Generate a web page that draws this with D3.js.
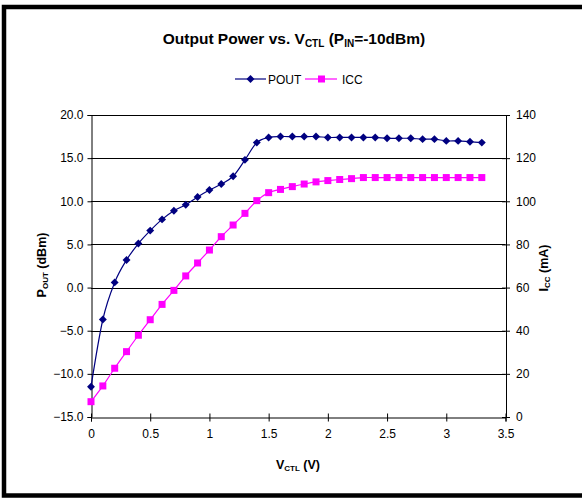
<!DOCTYPE html>
<html><head><meta charset="utf-8">
<script src="https://cdn.jsdelivr.net/npm/d3@7"></script>
<style>body{margin:0;background:#fff}svg{display:block}text{font-family:Arial,"Liberation Sans",sans-serif}</style>
</head><body>
<script>
const vctl = [0,0.1,0.2,0.3,0.4,0.5,0.6,0.7,0.8,0.9,1.0,1.1,1.2,1.3,1.4,1.5,1.6,1.7,1.8,1.9,2.0,2.1,2.2,2.3,2.4,2.5,2.6,2.7,2.8,2.9,3.0,3.1,3.2,3.3];
const pout = [-11.5,-3.7,0.6,3.2,5.1,6.6,7.9,8.9,9.6,10.5,11.3,12.0,12.9,14.8,16.8,17.4,17.5,17.5,17.5,17.5,17.4,17.4,17.4,17.4,17.4,17.3,17.3,17.3,17.2,17.2,17.0,17.0,16.9,16.8];
const icc = [7.1,14.4,22.6,30.3,37.9,45.1,52.2,58.7,65.4,71.4,77.4,83.6,89.0,94.4,100.3,104.0,105.5,106.8,108.0,109.0,109.6,110.1,110.5,111,111,111,111,111,111,111,111,111,111,111];
const xTicks = [0,0.5,1,1.5,2,2.5,3,3.5];
const leftTicks = [20,15,10,5,0,-5,-10,-15];
const rightTicks = [140,120,100,80,60,40,20,0];

const W=582,H=498;
const svg=d3.select("body").append("svg").attr("width",W).attr("height",H);
svg.append("rect").attr("x",4).attr("y",7).attr("width",590).attr("height",488.5)
  .attr("fill","none").attr("stroke","#000").attr("stroke-width",4.5);

const L=91,R=505.5,T=115,B=417;
const x=d3.scaleLinear().domain([0,3.5]).range([L,R]);
const yL=d3.scaleLinear().domain([-15,20]).range([B,T]);
const yR=d3.scaleLinear().domain([0,140]).range([B,T]);

svg.append("g").selectAll("line").data(leftTicks.filter(d=>d>-15)).join("line")
  .attr("x1",L).attr("x2",R).attr("y1",d=>Math.round(yL(d))+0.5).attr("y2",d=>Math.round(yL(d))+0.5)
  .attr("stroke","#000").attr("stroke-width",1);

const fmt1=d3.format(".1f");
const gL=svg.append("g").attr("transform",`translate(${L+0.5},0)`)
  .call(d3.axisLeft(yL).tickValues(leftTicks).tickFormat(fmt1).tickSize(4).tickPadding(4));
const gR=svg.append("g").attr("transform",`translate(${R+0.5},0)`)
  .call(d3.axisRight(yR).tickValues(rightTicks).tickSize(4).tickPadding(6));
gR.selectAll(".tick line").attr("x1",-4);
const gX=svg.append("g").attr("transform",`translate(0,${B+0.5})`)
  .call(d3.axisBottom(x).tickValues(xTicks).tickFormat(d3.format("")).tickSize(4).tickPadding(8));
gX.selectAll(".tick line").attr("y1",-4);
[gL,gR,gX].forEach(g=>{g.select(".domain").attr("stroke","#000");
  g.selectAll(".tick line").attr("stroke","#000");
  g.selectAll("text").attr("font-size",12).attr("fill","#000").attr("font-family","Arial, Liberation Sans, sans-serif");});

const curve=d3.curveCatmullRom.alpha(0);
const lp=d3.line().x((d,i)=>x(vctl[i])).y(d=>yL(d)).curve(curve);
const li=d3.line().x((d,i)=>x(vctl[i])).y(d=>yR(d)).curve(curve);
svg.append("path").attr("d",li(icc)).attr("fill","none").attr("stroke","#FF00FF").attr("stroke-width",1.2);
svg.append("path").attr("d",lp(pout)).attr("fill","none").attr("stroke","#000080").attr("stroke-width",1.2);
svg.append("g").selectAll("rect").data(icc).join("rect")
  .attr("x",(d,i)=>x(vctl[i])-3.5).attr("y",d=>yR(d)-3.5).attr("width",7).attr("height",7).attr("fill","#FF00FF");
const diamond=d3.symbol().type(d3.symbolDiamond2).size(40);
svg.append("g").selectAll("path").data(pout).join("path")
  .attr("d",diamond).attr("transform",(d,i)=>`translate(${x(vctl[i])},${yL(d)})`).attr("fill","#000080");

const t=svg.append("text").attr("x",294).attr("y",44).attr("text-anchor","middle")
  .attr("font-size",15.5).attr("font-weight","bold");
t.append("tspan").text("Output Power vs. V");
t.append("tspan").text("CTL").attr("font-size",10).attr("dy",3);
t.append("tspan").text(" (P").attr("dy",-3);
t.append("tspan").text("IN").attr("font-size",10).attr("dy",3);
t.append("tspan").text("=-10dBm)").attr("dy",-3);

const ly=79;
svg.append("line").attr("x1",235).attr("x2",266).attr("y1",ly).attr("y2",ly).attr("stroke","#000080").attr("stroke-width",1.2);
svg.append("path").attr("d",diamond).attr("transform",`translate(250.5,${ly})`).attr("fill","#000080");
svg.append("text").attr("x",268).attr("y",ly+4.5).attr("font-size",12).text("POUT");
svg.append("line").attr("x1",305).attr("x2",337).attr("y1",ly).attr("y2",ly).attr("stroke","#FF00FF").attr("stroke-width",1.2);
svg.append("rect").attr("x",318).attr("y",ly-3.5).attr("width",7).attr("height",7).attr("fill","#FF00FF");
svg.append("text").attr("x",342).attr("y",ly+4.5).attr("font-size",12).text("ICC");

const yl=svg.append("text").attr("transform","translate(46,265) rotate(-90)").attr("text-anchor","middle")
  .attr("font-size",12.5).attr("font-weight","bold");
yl.append("tspan").text("P");
yl.append("tspan").text("OUT").attr("font-size",8).attr("dy",2);
yl.append("tspan").text(" (dBm)").attr("dy",-2);
const yr=svg.append("text").attr("transform","translate(548,268) rotate(-90)").attr("text-anchor","middle")
  .attr("font-size",12.5).attr("font-weight","bold");
yr.append("tspan").text("I");
yr.append("tspan").text("CC").attr("font-size",8).attr("dy",2);
yr.append("tspan").text(" (mA)").attr("dy",-2);
const xl=svg.append("text").attr("x",298).attr("y",469).attr("text-anchor","middle")
  .attr("font-size",12.5).attr("font-weight","bold");
xl.append("tspan").text("V");
xl.append("tspan").text("CTL").attr("font-size",8).attr("dy",2);
xl.append("tspan").text(" (V)").attr("dy",-2);
</script>
</body></html>
